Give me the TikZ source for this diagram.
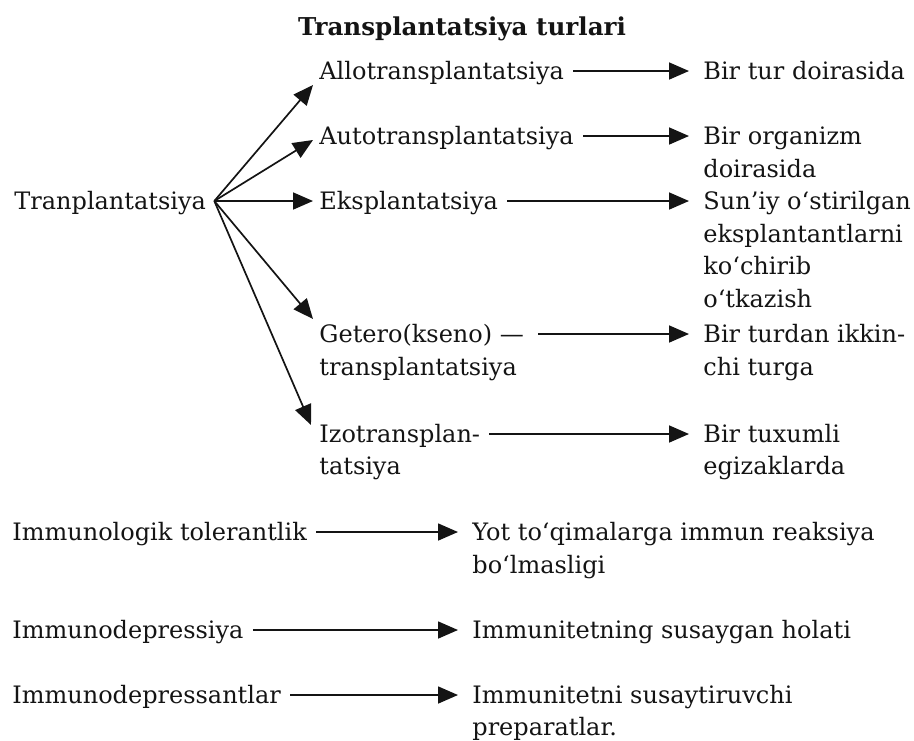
\documentclass[tikz,border=0pt]{standalone}
\usepackage{fontspec}
\setmainfont{DejaVu Serif}
\usetikzlibrary{arrows.meta}
\definecolor{ink}{RGB}{20,20,20}
\begin{document}
\begin{tikzpicture}[x=0.5pt,y=-0.5pt,
  txt/.style={anchor=base west, inner sep=0pt, text height=8pt, text depth=0pt,
    text=ink, font=\fontsize{12}{15}\selectfont},
  ttl/.style={anchor=base, inner sep=0pt, text=ink, font=\fontsize{12.3}{15}\selectfont\bfseries},
  arr/.style={draw=ink, line width=0.85pt, -{Triangle[length=10pt,width=8.5pt]}},
  harr/.style={arr, shorten <=4.5pt, shorten >=7pt},
]
\useasboundingbox (0,0) rectangle (914,740);

% title
\node[ttl] (title) at (462,35) {Transplantatsiya turlari};

% hub
\node[txt] (tran) at (14,209) {Tranplantatsiya};
\coordinate (hub) at ([xshift=4pt]tran.east);

% middle column
\node[txt] (allo) at (319,79) {Allotransplantatsiya};
\node[txt] (auto) at (319,144) {Autotransplantatsiya};
\node[txt] (eksp) at (319,209) {Eksplantatsiya};
\node[txt] (getA) at (319,342) {Getero(kseno) —};
\node[txt] (getB) at (319,375) {transplantatsiya};
\node[txt] (izoA) at (319,442) {Izotransplan-};
\node[txt] (izoB) at (319,474) {tatsiya};

% right column
\node[txt] (r1)  at (703,79)  {Bir tur doirasida};
\node[txt] (r2a) at (703,144) {Bir organizm};
\node[txt] (r2b) at (703,177) {doirasida};
\node[txt] (r3a) at (703,209) {Sun’iy o‘stirilgan};
\node[txt] (r3b) at (703,242) {eksplantantlarni};
\node[txt] (r3c) at (703,274) {ko‘chirib};
\node[txt] (r3d) at (703,307) {o‘tkazish};
\node[txt] (r4a) at (703,342) {Bir turdan ikkin-};
\node[txt] (r4b) at (703,375) {chi turga};
\node[txt] (r5a) at (703,442) {Bir tuxumli};
\node[txt] (r5b) at (703,474) {egizaklarda};

% fan arrows
\draw[arr] (hub) -- ([xshift=-3pt,yshift=-7pt]allo.west);
\draw[arr] (hub) -- ([xshift=-3pt,yshift=-2pt]auto.west);
\draw[arr] (hub) -- ([xshift=-3pt]eksp.west);
\draw[arr] (hub) -- ([xshift=-3pt,yshift=7.5pt]getA.west);
\draw[arr] (hub) -- ([xshift=-4pt,yshift=4.5pt]izoA.west);

% horizontal arrows
\draw[harr] (allo.east) -- (allo.east -| r1.west);
\draw[harr] (auto.east) -- (auto.east -| r2a.west);
\draw[harr] (eksp.east) -- (eksp.east -| r3a.west);
\draw[harr, shorten <=7pt] (getA.east) -- (getA.east -| r4a.west);
\draw[harr] (izoA.east) -- (izoA.east -| r5a.west);

% lower block
\node[txt] (im1) at (12,540) {Immunologik tolerantlik};
\node[txt] (d1a) at (472,540) {Yot to‘qimalarga immun reaksiya};
\node[txt] (d1b) at (472,573) {bo‘lmasligi};
\node[txt] (im2) at (12,638) {Immunodepressiya};
\node[txt] (d2)  at (472,638) {Immunitetning susaygan holati};
\node[txt] (im3) at (12,703) {Immunodepressantlar};
\node[txt] (d3a) at (472,703) {Immunitetni susaytiruvchi};
\node[txt] (d3b) at (472,735) {preparatlar.};

\draw[harr] (im1.east) -- (im1.east -| d1a.west);
\draw[harr] (im2.east) -- (im2.east -| d2.west);
\draw[harr] (im3.east) -- (im3.east -| d3a.west);
\end{tikzpicture}
\end{document}
